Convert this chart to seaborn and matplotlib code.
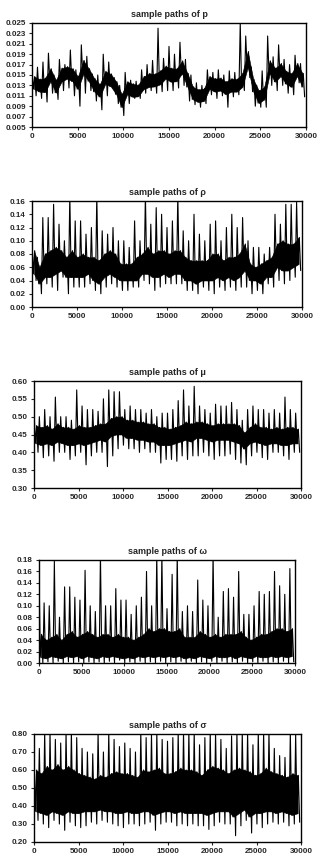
import numpy as np
import pandas as pd
import seaborn as sns
import matplotlib.pyplot as plt
from matplotlib.ticker import FormatStrFormatter

# values every 600 iterations:
# *_hi / *_lo  = the spike tips in that stretch
# *_chi / *_clo = top and bottom of the dense part of the trace
steps = list(range(0, 30000, 600))

p_hi = [0.0162, 0.0165, 0.0175, 0.0192, 0.0150, 0.0180, 0.0170, 0.0198, 0.0160, 0.0208,
        0.0186, 0.0152, 0.0150, 0.0190, 0.0175, 0.0145, 0.0130, 0.0155, 0.0140, 0.0138,
        0.0160, 0.0170, 0.0178, 0.0240, 0.0182, 0.0205, 0.0190, 0.0213, 0.0180, 0.0150,
        0.0135, 0.0130, 0.0160, 0.0155, 0.0160, 0.0150, 0.0158, 0.0155, 0.0250, 0.0225,
        0.0165, 0.0130, 0.0158, 0.0225, 0.0185, 0.0208, 0.0180, 0.0170, 0.0188, 0.0172]
p_lo = [0.0110, 0.0105, 0.0098, 0.0115, 0.0103, 0.0120, 0.0125, 0.0110, 0.0090, 0.0115,
        0.0120, 0.0100, 0.0083, 0.0110, 0.0125, 0.0095, 0.0072, 0.0095, 0.0105, 0.0105,
        0.0115, 0.0120, 0.0115, 0.0118, 0.0120, 0.0120, 0.0125, 0.0130, 0.0100, 0.0093,
        0.0088, 0.0095, 0.0112, 0.0105, 0.0110, 0.0088, 0.0108, 0.0112, 0.0120, 0.0145,
        0.0090, 0.0088, 0.0088, 0.0130, 0.0120, 0.0130, 0.0115, 0.0112, 0.0135, 0.0108]
p_chi = [0.0147, 0.0142, 0.0144, 0.0162, 0.0140, 0.0163, 0.0166, 0.0162, 0.0147, 0.0178,
         0.0162, 0.0143, 0.0132, 0.0157, 0.0152, 0.0137, 0.0113, 0.0137, 0.0133, 0.0131,
         0.0147, 0.0153, 0.0152, 0.0158, 0.0167, 0.0163, 0.0162, 0.0177, 0.0153, 0.0127,
         0.0122, 0.0124, 0.0147, 0.0143, 0.0144, 0.0137, 0.0143, 0.0142, 0.0153, 0.0195,
         0.0142, 0.0120, 0.0127, 0.0177, 0.0163, 0.0172, 0.0157, 0.0153, 0.0172, 0.0153]
p_clo = [0.0123, 0.0118, 0.0117, 0.0138, 0.0116, 0.0137, 0.0143, 0.0138, 0.0123, 0.0152,
         0.0138, 0.0118, 0.0108, 0.0133, 0.0128, 0.0113, 0.0088, 0.0113, 0.0108, 0.0109,
         0.0123, 0.0127, 0.0128, 0.0132, 0.0143, 0.0137, 0.0138, 0.0153, 0.0127, 0.0103,
         0.0098, 0.0100, 0.0123, 0.0118, 0.0120, 0.0113, 0.0118, 0.0118, 0.0127, 0.0165,
         0.0118, 0.0096, 0.0103, 0.0153, 0.0137, 0.0148, 0.0133, 0.0127, 0.0148, 0.0127]

rho_hi = [0.100, 0.075, 0.135, 0.135, 0.155, 0.125, 0.100, 0.170, 0.130, 0.130,
          0.110, 0.120, 0.170, 0.115, 0.110, 0.120, 0.100, 0.100, 0.090, 0.130,
          0.100, 0.170, 0.125, 0.150, 0.140, 0.120, 0.130, 0.170, 0.115, 0.100,
          0.140, 0.110, 0.100, 0.125, 0.130, 0.100, 0.120, 0.140, 0.120, 0.135,
          0.100, 0.090, 0.090, 0.080, 0.090, 0.140, 0.125, 0.155, 0.155, 0.158]
rho_lo = [0.040, 0.020, 0.035, 0.030, 0.025, 0.045, 0.020, 0.030, 0.030, 0.030,
          0.035, 0.025, 0.020, 0.030, 0.035, 0.030, 0.025, 0.025, 0.030, 0.030,
          0.040, 0.035, 0.025, 0.030, 0.035, 0.035, 0.035, 0.035, 0.025, 0.025,
          0.020, 0.030, 0.025, 0.020, 0.030, 0.025, 0.030, 0.025, 0.030, 0.030,
          0.020, 0.025, 0.020, 0.035, 0.030, 0.040, 0.035, 0.040, 0.045, 0.055]
rho_chi = [0.085, 0.060, 0.080, 0.085, 0.090, 0.085, 0.075, 0.085, 0.075, 0.080,
           0.075, 0.075, 0.070, 0.080, 0.085, 0.080, 0.065, 0.065, 0.065, 0.075,
           0.080, 0.090, 0.080, 0.085, 0.085, 0.080, 0.085, 0.085, 0.075, 0.070,
           0.070, 0.070, 0.070, 0.080, 0.080, 0.070, 0.075, 0.075, 0.080, 0.095,
           0.065, 0.060, 0.065, 0.070, 0.075, 0.095, 0.100, 0.095, 0.095, 0.105]
rho_clo = [0.050, 0.035, 0.045, 0.045, 0.050, 0.055, 0.045, 0.045, 0.045, 0.045,
           0.050, 0.040, 0.035, 0.045, 0.050, 0.045, 0.040, 0.040, 0.040, 0.040,
           0.050, 0.050, 0.045, 0.045, 0.050, 0.045, 0.050, 0.050, 0.040, 0.040,
           0.035, 0.040, 0.040, 0.040, 0.045, 0.040, 0.045, 0.040, 0.045, 0.055,
           0.040, 0.040, 0.035, 0.045, 0.045, 0.060, 0.055, 0.055, 0.060, 0.065]

mu_hi = [0.520, 0.500, 0.520, 0.500, 0.555, 0.500, 0.500, 0.490, 0.575, 0.530,
         0.520, 0.520, 0.515, 0.550, 0.575, 0.570, 0.570, 0.520, 0.530, 0.520,
         0.520, 0.510, 0.520, 0.500, 0.510, 0.510, 0.520, 0.545, 0.575, 0.530,
         0.585, 0.530, 0.520, 0.510, 0.535, 0.530, 0.530, 0.540, 0.520, 0.490,
         0.520, 0.530, 0.520, 0.520, 0.510, 0.520, 0.510, 0.555, 0.520, 0.510]
mu_lo = [0.400, 0.385, 0.390, 0.375, 0.400, 0.400, 0.380, 0.390, 0.400, 0.365,
         0.390, 0.400, 0.400, 0.360, 0.390, 0.410, 0.420, 0.410, 0.410, 0.400,
         0.410, 0.400, 0.400, 0.370, 0.380, 0.380, 0.375, 0.390, 0.380, 0.390,
         0.390, 0.400, 0.390, 0.380, 0.390, 0.390, 0.395, 0.380, 0.370, 0.365,
         0.390, 0.400, 0.385, 0.380, 0.400, 0.400, 0.390, 0.380, 0.400, 0.400]
mu_chi = [0.475, 0.470, 0.475, 0.465, 0.480, 0.470, 0.470, 0.465, 0.475, 0.470,
          0.470, 0.475, 0.480, 0.480, 0.495, 0.500, 0.500, 0.490, 0.490, 0.485,
          0.485, 0.480, 0.480, 0.470, 0.470, 0.465, 0.470, 0.475, 0.485, 0.480,
          0.485, 0.485, 0.480, 0.475, 0.480, 0.480, 0.480, 0.480, 0.475, 0.455,
          0.470, 0.480, 0.470, 0.470, 0.465, 0.470, 0.465, 0.470, 0.470, 0.465]
mu_clo = [0.425, 0.420, 0.425, 0.420, 0.430, 0.425, 0.420, 0.420, 0.425, 0.420,
          0.425, 0.430, 0.435, 0.430, 0.445, 0.450, 0.450, 0.440, 0.440, 0.435,
          0.435, 0.430, 0.430, 0.420, 0.420, 0.420, 0.425, 0.430, 0.435, 0.430,
          0.440, 0.440, 0.435, 0.430, 0.435, 0.435, 0.435, 0.430, 0.425, 0.410,
          0.425, 0.430, 0.425, 0.420, 0.425, 0.425, 0.420, 0.420, 0.425, 0.425]

omega_hi = [0.163, 0.105, 0.100, 0.178, 0.080, 0.133, 0.133, 0.115, 0.110, 0.162,
            0.100, 0.090, 0.190, 0.100, 0.100, 0.130, 0.110, 0.110, 0.085, 0.100,
            0.115, 0.160, 0.100, 0.190, 0.190, 0.095, 0.155, 0.190, 0.090, 0.100,
            0.090, 0.145, 0.110, 0.100, 0.190, 0.080, 0.125, 0.130, 0.115, 0.160,
            0.085, 0.085, 0.100, 0.125, 0.120, 0.125, 0.160, 0.135, 0.120, 0.165]
omega_lo = [0.000, 0.002, 0.000, 0.003, 0.000, 0.002, 0.000, 0.002, 0.000, 0.002,
            0.000, 0.002, 0.000, 0.003, 0.000, 0.005, 0.000, 0.002, 0.000, 0.003,
            0.000, 0.002, 0.000, 0.003, 0.000, 0.002, 0.000, 0.003, 0.000, 0.003,
            0.000, 0.002, 0.000, 0.003, 0.000, 0.003, 0.000, 0.002, 0.000, 0.003,
            0.000, 0.002, 0.000, 0.003, 0.000, 0.002, 0.000, 0.003, 0.000, 0.002]
omega_chi = [0.050, 0.040, 0.045, 0.050, 0.040, 0.050, 0.055, 0.045, 0.050, 0.055,
             0.050, 0.045, 0.050, 0.050, 0.045, 0.050, 0.045, 0.045, 0.040, 0.045,
             0.050, 0.060, 0.055, 0.060, 0.060, 0.055, 0.055, 0.060, 0.045, 0.045,
             0.045, 0.055, 0.050, 0.045, 0.050, 0.045, 0.050, 0.050, 0.050, 0.055,
             0.045, 0.040, 0.045, 0.050, 0.050, 0.055, 0.060, 0.060, 0.055, 0.060]
omega_clo = [0.010, 0.008, 0.012, 0.010, 0.008, 0.012, 0.010, 0.012, 0.008, 0.012,
             0.010, 0.008, 0.012, 0.010, 0.012, 0.010, 0.008, 0.010, 0.008, 0.012,
             0.010, 0.012, 0.010, 0.012, 0.010, 0.012, 0.010, 0.012, 0.008, 0.010,
             0.008, 0.012, 0.010, 0.008, 0.012, 0.010, 0.010, 0.012, 0.008, 0.012,
             0.010, 0.008, 0.012, 0.010, 0.010, 0.012, 0.010, 0.012, 0.010, 0.012]

sigma_hi = [0.73, 0.72, 0.81, 0.81, 0.77, 0.75, 0.81, 0.81, 0.78, 0.72,
            0.70, 0.69, 0.81, 0.70, 0.81, 0.77, 0.73, 0.75, 0.72, 0.70,
            0.81, 0.78, 0.80, 0.81, 0.77, 0.76, 0.78, 0.81, 0.81, 0.81,
            0.81, 0.74, 0.78, 0.81, 0.81, 0.77, 0.72, 0.79, 0.81, 0.81,
            0.81, 0.74, 0.81, 0.81, 0.81, 0.72, 0.68, 0.67, 0.81, 0.80]
sigma_lo = [0.32, 0.30, 0.28, 0.32, 0.30, 0.265, 0.31, 0.29, 0.28, 0.29,
            0.31, 0.30, 0.32, 0.31, 0.30, 0.29, 0.28, 0.30, 0.30, 0.29,
            0.30, 0.31, 0.265, 0.30, 0.31, 0.31, 0.29, 0.30, 0.29, 0.30,
            0.29, 0.29, 0.27, 0.29, 0.31, 0.30, 0.30, 0.235, 0.29, 0.32,
            0.25, 0.30, 0.28, 0.30, 0.31, 0.30, 0.31, 0.29, 0.30, 0.31]
sigma_chi = [0.60, 0.58, 0.62, 0.60, 0.63, 0.60, 0.62, 0.60, 0.58, 0.57,
             0.56, 0.55, 0.57, 0.56, 0.58, 0.59, 0.58, 0.58, 0.57, 0.56,
             0.60, 0.59, 0.60, 0.61, 0.58, 0.58, 0.59, 0.61, 0.60, 0.60,
             0.59, 0.57, 0.60, 0.62, 0.61, 0.60, 0.58, 0.60, 0.61, 0.60,
             0.59, 0.57, 0.58, 0.61, 0.59, 0.58, 0.57, 0.56, 0.58, 0.57]
sigma_clo = [0.37, 0.36, 0.35, 0.37, 0.36, 0.35, 0.37, 0.36, 0.36, 0.37,
             0.37, 0.37, 0.38, 0.37, 0.37, 0.36, 0.36, 0.37, 0.36, 0.36,
             0.37, 0.37, 0.35, 0.36, 0.37, 0.37, 0.36, 0.37, 0.36, 0.36,
             0.36, 0.36, 0.35, 0.36, 0.37, 0.37, 0.37, 0.34, 0.36, 0.38,
             0.34, 0.36, 0.36, 0.37, 0.37, 0.36, 0.37, 0.36, 0.35, 0.36]

titles = ['sample paths of p', 'sample paths of \u03c1', 'sample paths of \u03bc',
          'sample paths of \u03c9', 'sample paths of \u03c3']
series = [(p_hi, p_clo, p_chi, p_lo),
          (rho_hi, rho_clo, rho_chi, rho_lo),
          (mu_hi, mu_clo, mu_chi, mu_lo),
          (omega_hi, omega_clo, omega_chi, omega_lo),
          (sigma_hi, sigma_clo, sigma_chi, sigma_lo)]
yticks = [np.arange(0.005, 0.0251, 0.002), np.arange(0, 0.161, 0.02),
          np.arange(0.30, 0.601, 0.05), np.arange(0, 0.181, 0.02),
          np.arange(0.20, 0.801, 0.10)]
yfmt = ['%.3f', '%.2f', '%.2f', '%.2f', '%.2f']

# axes boxes in pixels: left, right, top, bottom
boxes = [(32, 306, 23, 127), (32, 302, 201, 307), (34, 301, 381, 488),
         (39, 295, 560, 663), (34, 301, 734, 842)]

sns.set_style('ticks')
plt.rcParams['font.family'] = ['Liberation Sans', 'DejaVu Sans']
plt.rcParams['font.weight'] = 'bold'

W, H = 331, 867
fig = plt.figure(figsize=(W / 100, H / 100), dpi=100)

for cols, title, yt, fmt, (l, r, t, b) in zip(series, titles, yticks, yfmt, boxes):
    ax = fig.add_axes([l / W, 1 - b / H, (r - l) / W, (b - t) / H])
    hi, clo, chi, lo = cols
    xs, ys = [], []
    for s, *vals in zip(steps, *cols):
        for k, v in enumerate(vals):
            xs.append(s + 150 * k)
            ys.append(v)
    df = pd.DataFrame({'iteration': xs, 'value': ys})
    sns.lineplot(data=df, x='iteration', y='value', ax=ax, color='black',
                 linewidth=0.8, estimator=None, sort=True)
    # dense part of the chain
    ax.fill_between([s + 225 for s in steps], clo, chi, color='black', linewidth=0.4,
                    edgecolor='black')
    ax.set_xlim(0, 30000)
    ax.set_ylim(yt[0], yt[-1])
    ax.set_yticks(yt)
    ax.set_xticks(range(0, 30001, 5000))
    ax.yaxis.set_major_formatter(FormatStrFormatter(fmt))
    ax.set_xlabel('')
    ax.set_ylabel('')
    ax.set_title(title, fontsize=6.5, fontweight='bold', pad=4)
    ax.tick_params(labelsize=5.8, length=2.5, width=0.8, pad=2)
    for sp in ax.spines.values():
        sp.set_visible(True)
        sp.set_linewidth(1.0)
        sp.set_color('black')

fig.savefig('out.png', dpi=100)
